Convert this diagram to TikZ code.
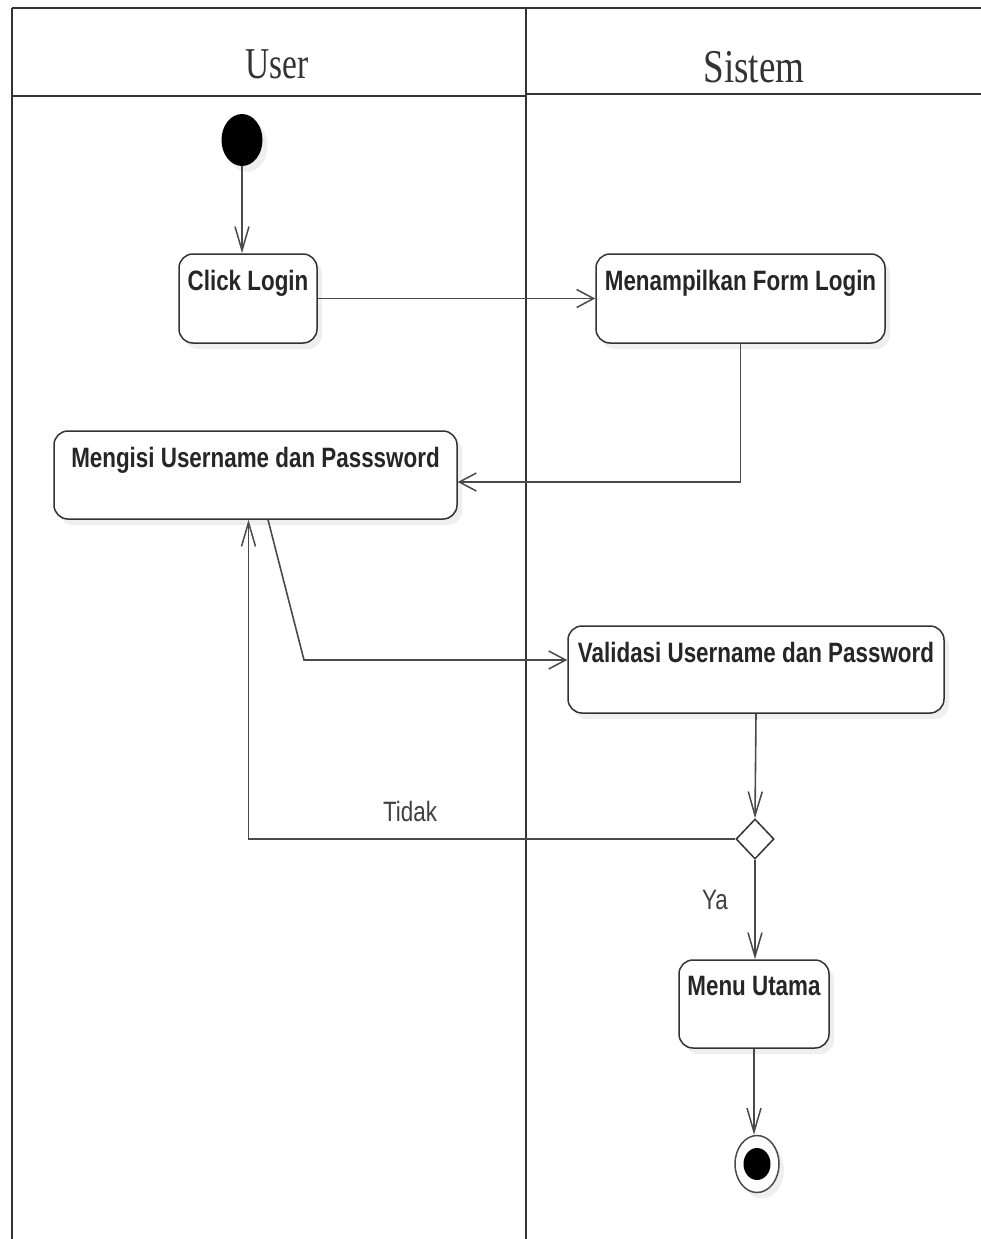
\documentclass[tikz,border=0pt]{standalone}
\usepackage{fontspec}
\usetikzlibrary{arrows.meta,shapes.geometric,shadows,calc}
\newfontfamily\actfont{Liberation Sans}[FakeStretch=0.8]
\newfontfamily\lanefont{Liberation Serif}[FakeStretch=0.76]
\newfontfamily\lanewidefont{Liberation Serif}[FakeStretch=0.79]
\definecolor{edge}{HTML}{333333}
\definecolor{wire}{HTML}{4A4A4A}
\begin{document}
\begin{tikzpicture}[x=1pt,y=-1pt,
  softshadow/.style={drop shadow={opacity=0.12,shadow xshift=5pt,shadow yshift=-6pt}},
  act/.style={draw=edge,line width=1.5pt,rounded corners=14pt,fill=white,softshadow,
    inner sep=0pt,
    label={[actlbl]north:#1}},
  actlbl/.style={font=\actfont\bfseries\fontsize{28}{30}\selectfont,text=black!85,
    anchor=north,inner sep=0pt,yshift=-17pt},
  flow/.style={draw=wire,line width=1.6pt},
  harr/.style={flow,-{Straight Barb[length=17pt,width=18pt,line width=1.5pt]}},
  varr/.style={flow,-{Straight Barb[length=24pt,width=14pt,line width=1.5pt]}},
  guard/.style={font=\actfont\fontsize{28}{30}\selectfont,text=black!75,inner sep=0pt},
  lane/.style={draw=edge,line width=1.5pt},
  lanetitle/.style={text=black!80,anchor=base,inner sep=0pt}]
\useasboundingbox (0,0) rectangle (981,1239);
\fill[white] (0,0) rectangle (981,1239);

% swimlanes
\draw[lane,line width=2.2pt] (12,8) -- (981,8);
\draw[lane] (12,8) -- (12,1239);
\draw[lane] (526,8) -- (526,1239);
\draw[lane] (12,96) -- (526,96);
\draw[lane] (526,94) -- (981,94);
\node[lanetitle,font=\lanefont\fontsize{44}{46}\selectfont] (user) at (277,78) {User};
\node[lanetitle,font=\lanewidefont\fontsize{47}{49}\selectfont] (sistem) at (754,82) {Sistem};

% start and end
\node[ellipse,fill=black,minimum width=41pt,minimum height=52pt,inner sep=0pt,softshadow] (start) at (242,140) {};
\node[ellipse,draw=wire,line width=1.5pt,fill=white,minimum width=44pt,minimum height=57pt,inner sep=0pt,softshadow] (end) at (757,1164) {};
\node[ellipse,fill=black,minimum width=27pt,minimum height=32pt,inner sep=0pt] (endin) at (757,1164) {};

% activities
\node[act=Click Login,minimum width=138pt,minimum height=89pt] (click) at (248,298.5) {};
\node[act=Menampilkan Form Login,minimum width=289pt,minimum height=89pt] (form) at (740.5,298.5) {};
\node[act=Mengisi Username dan Passsword,minimum width=403pt,minimum height=88pt] (isi) at (255.5,475) {};
\node[act=Validasi Username dan Password,minimum width=376pt,minimum height=87pt] (valid) at (756,669.5) {};
\node[act=Menu Utama,minimum width=150pt,minimum height=88pt] (menu) at (754,1004) {};

% decision
\node[diamond,draw=edge,line width=1.5pt,fill=white,minimum width=38pt,minimum height=40pt,inner sep=0pt,aspect=0.95] (dec) at (755,839) {};

% flows
\draw[varr] (start.south) -- (start.south |- click.north);
\draw[harr] (click.east) -- (form.west);
\coordinate (backin) at ([yshift=-7pt]isi.east);
\draw[harr] (form.south) |- (backin);
\coordinate (isiout) at ([xshift=12.5pt]isi.south);
\coordinate (bend) at (304,660);
\draw[harr] (isiout) -- (bend) -- (bend -| valid.west);
\draw[varr] (valid.south) -- (dec.north);
\coordinate (retry) at ([xshift=-7pt]isi.south);
\draw[varr] (dec.west) -| (retry);
\node[guard] (tidak) at (410,811) {Tidak};
\draw[varr] (dec.south) -- (dec.south |- menu.north);
\node[guard] (ya) at (715,900) {Ya};
\draw[varr] (menu.south) -- (menu.south |- end.north);
\end{tikzpicture}
\end{document}
